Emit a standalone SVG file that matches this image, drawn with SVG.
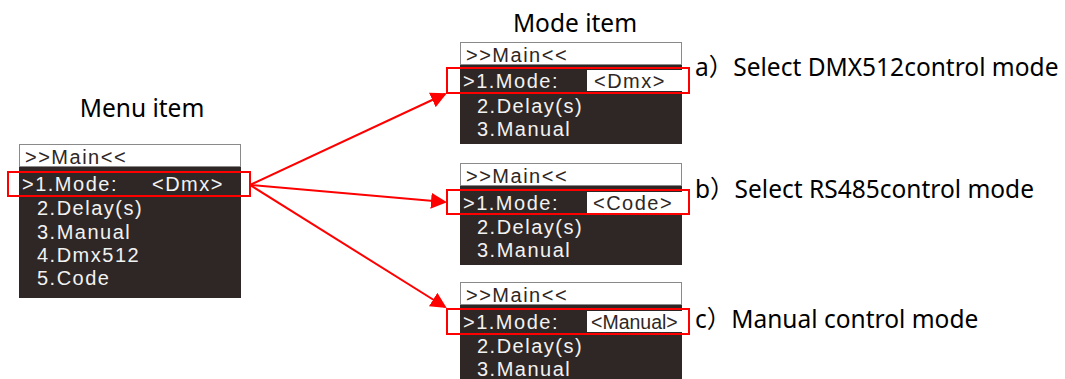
<svg xmlns="http://www.w3.org/2000/svg" width="1065" height="379" viewBox="0 0 1065 379">
<style>
.bg{fill:#ffffff}
.hdr{fill:#ffffff;stroke:#8a8a8a;stroke-width:1}
.lcd{fill:#2f2725}
.val{fill:#ffffff}
.sel{fill:none;stroke:#ff0000;stroke-width:2}
.t{font-family:"Liberation Sans",Arial,sans-serif;font-size:20px;letter-spacing:1.5px}
.tw{fill:#f2f2f2}
.tk{fill:#2f2725}
.cap{font-family:"Noto Sans","Open Sans",sans-serif;font-size:24.5px;fill:#000000}
.lbl{font-family:"Noto Sans","Noto Sans CJK SC",sans-serif;font-size:24.5px;fill:#000000}
.con{stroke:#ff0000;stroke-width:2;fill:none}
</style>
<defs>
<marker id="ah" markerWidth="8" markerHeight="8" refX="7" refY="4" orient="auto" markerUnits="strokeWidth">
<path d="M0,0 L8,4 L0,8 Z" fill="#ff0000"/>
</marker>
</defs>
<rect class="bg" x="0" y="0" width="1065" height="379"/>

<text class="cap" x="142" y="117" text-anchor="middle">Menu item</text>
<text class="cap" x="575" y="32" text-anchor="middle">Mode item</text>

<g id="menu">
<rect class="lcd" x="19" y="167" width="222" height="131"/>
<rect class="hdr" x="19.5" y="144.5" width="221" height="22"/>
<text class="t tk" x="25" y="164">&gt;&gt;Main&lt;&lt;</text>
<text class="t tw" x="22" y="191">&gt;1.Mode:</text>
<text class="t tw" x="152" y="191">&lt;Dmx&gt;</text>
<text class="t tw" x="37" y="215">2.Delay(s)</text>
<text class="t tw" x="37" y="239">3.Manual</text>
<text class="t tw" x="37" y="262">4.Dmx512</text>
<text class="t tw" x="37" y="285">5.Code</text>
<rect class="sel" x="8" y="172" width="242" height="24"/>
</g>

<g id="mode-dmx">
<rect class="lcd" x="460" y="65" width="222" height="79"/>
<rect class="hdr" x="460.5" y="42.5" width="221" height="22"/>
<text class="t tk" x="466" y="62">&gt;&gt;Main&lt;&lt;</text>
<rect class="val" x="587" y="70" width="95" height="21"/>
<text class="t tw" x="463" y="88">&gt;1.Mode:</text>
<text class="t tk" x="594" y="88">&lt;Dmx&gt;</text>
<text class="t tw" x="477" y="113">2.Delay(s)</text>
<text class="t tw" x="477" y="136">3.Manual</text>
<rect class="sel" x="447" y="68" width="242" height="25"/>
</g>
<text class="lbl" x="695" y="76">a）Select DMX512control mode</text>

<g id="mode-code">
<rect class="lcd" x="460" y="186" width="222" height="79"/>
<rect class="hdr" x="460.5" y="163.5" width="221" height="22"/>
<text class="t tk" x="466" y="183">&gt;&gt;Main&lt;&lt;</text>
<rect class="val" x="587" y="192" width="95" height="21"/>
<text class="t tw" x="463" y="210">&gt;1.Mode:</text>
<text class="t tk" x="593" y="210">&lt;Code&gt;</text>
<text class="t tw" x="477" y="234">2.Delay(s)</text>
<text class="t tw" x="477" y="257">3.Manual</text>
<rect class="sel" x="447" y="190" width="242" height="24"/>
</g>
<text class="lbl" x="695" y="198">b）Select RS485control mode</text>

<g id="mode-manual">
<rect class="lcd" x="460" y="305" width="222" height="74"/>
<rect class="hdr" x="460.5" y="282.5" width="221" height="22"/>
<text class="t tk" x="466" y="302">&gt;&gt;Main&lt;&lt;</text>
<rect class="val" x="587" y="311" width="95" height="21"/>
<text class="t tw" x="463" y="329">&gt;1.Mode:</text>
<text class="t tk" x="591" y="329" style="letter-spacing:0px;font-size:19.5px">&lt;Manual&gt;</text>
<text class="t tw" x="477" y="353">2.Delay(s)</text>
<text class="t tw" x="477" y="376">3.Manual</text>
<rect class="sel" x="447" y="309" width="242" height="25"/>
</g>
<text class="lbl" x="695" y="328">c）Manual control mode</text>

<g id="connectors">
<line class="con" x1="250" y1="185" x2="445" y2="94" marker-end="url(#ah)"/>
<line class="con" x1="250" y1="185" x2="445" y2="202" marker-end="url(#ah)"/>
<line class="con" x1="250" y1="185" x2="445" y2="307" marker-end="url(#ah)"/>
</g>
</svg>
